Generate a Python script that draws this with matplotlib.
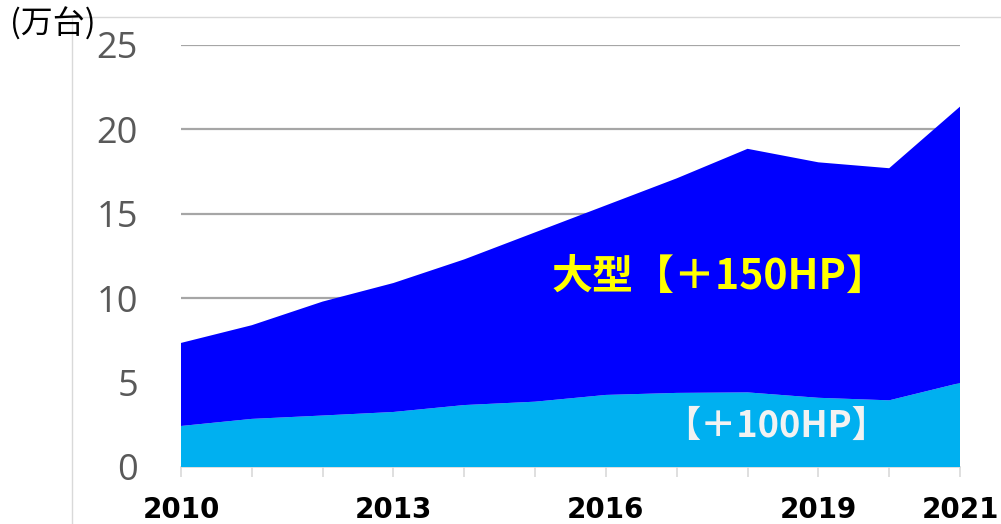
import matplotlib.pyplot as plt
from matplotlib.lines import Line2D

years = [2010, 2011, 2012, 2013, 2014, 2015, 2016, 2017, 2018, 2019, 2020, 2021]
hp100 = [2.43, 2.85, 3.05, 3.26, 3.67, 3.87, 4.27, 4.39, 4.42, 4.1, 3.95, 4.98]
total = [7.35, 8.4, 9.8, 10.9, 12.3, 13.9, 15.5, 17.1, 18.85, 18.05, 17.7, 21.35]
hp150 = [t - b for t, b in zip(total, hp100)]

xtick_years = [2010, 2013, 2016, 2019, 2021]
yticks = [0, 5, 10, 15, 20, 25]

W, H = 1001, 524
fig = plt.figure(figsize=(W / 100, H / 100), dpi=100)
ax = fig.add_axes([181 / W, 1 - 467 / H, (960 - 181) / W, (467 - 45) / H])

ax.stackplot(years, hp100, hp150, colors=['#00B0F0', '#0000FF'], linewidth=0, zorder=3)

ax.set_xlim(2010, 2021)
ax.set_ylim(0, 25)
ax.set_yticks(yticks)
ax.yaxis.grid(True, color='#A6A6A6', linewidth=1.6, zorder=0)
ax.set_axisbelow(True)
for s in ['left', 'right', 'top']:
    ax.spines[s].set_visible(False)
ax.spines['bottom'].set_color('#D9D9D9')
ax.spines['bottom'].set_linewidth(1.2)

ax.set_xticks(years)
ax.set_xticklabels([str(y) if y in xtick_years else '' for y in years],
                   fontsize=20, fontweight='bold', color='black', family='DejaVu Sans')
# tick lengths / pads are in points (1pt = 1.39px at dpi 100)
ax.tick_params(axis='x', length=7, width=1.2, color='#D9D9D9', pad=14)
ax.tick_params(axis='y', length=0, pad=31, labelsize=26, labelcolor='#595959')
for lab in ax.get_yticklabels():
    lab.set_family('Open Sans')

cjk = ['Noto Sans CJK JP', 'DejaVu Sans']
fig.text(10 / W, 1 - 24 / H, '(万台)', fontsize=23, family=cjk, va='center', ha='left')

ax.text(2017.6, 11.26, '大型【＋150HP】', fontsize=29.5, fontweight='bold', color='#FFFF00',
        family=cjk, ha='center', va='center', zorder=5)
ax.text(2018.4, 2.43, '【＋100HP】', fontsize=26, fontweight='bold', color='#F2F2F2',
        family=cjk, ha='center', va='center', zorder=5)

# outer frame edges
fig.add_artist(Line2D([72 / W, 72 / W], [0, 1 - 17 / H], color='#D9D9D9', linewidth=1,
                      transform=fig.transFigure))
fig.add_artist(Line2D([72 / W, 1], [1 - 17 / H, 1 - 17 / H], color='#D9D9D9', linewidth=1,
                      transform=fig.transFigure))

fig.savefig('out.png', dpi=100)
